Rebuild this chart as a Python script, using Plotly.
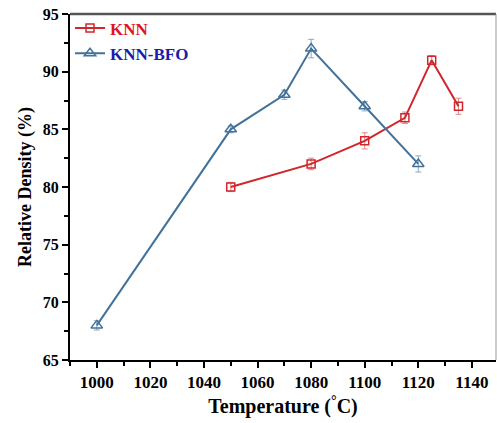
import plotly.graph_objects as go

knn_T = [1050, 1080, 1100, 1115, 1125, 1135]
knn_rd = [80, 82, 84, 86, 91, 87]
knn_err = [0.4, 0.5, 0.7, 0.5, 0.4, 0.7]

bfo_T = [1000, 1050, 1070, 1080, 1100, 1120]
bfo_rd = [68, 85, 88, 92, 87, 82]
bfo_err = [0.4, 0.3, 0.4, 0.8, 0.4, 0.7]

x_ticks = [1000, 1020, 1040, 1060, 1080, 1100, 1120, 1140]
y_ticks = [65, 70, 75, 80, 85, 90, 95]

red = "#d0262c"
blue = "#42729a"
font = "Liberation Serif"

fig = go.Figure()
fig.add_trace(go.Scatter(
    x=knn_T, y=knn_rd, mode="lines+markers",
    name="<b><span style='color:#e0141e'>KNN</span></b>",
    line=dict(color=red, width=2),
    marker=dict(symbol="square-open", size=8, color=red, line=dict(width=1.5)),
    error_y=dict(type="data", array=knn_err, color="#d98a8c", thickness=1, width=3),
))
fig.add_trace(go.Scatter(
    x=bfo_T, y=bfo_rd, mode="lines+markers",
    name="<b><span style='color:#1c1ca8'>KNN-BFO</span></b>",
    line=dict(color=blue, width=2),
    marker=dict(symbol="triangle-up-open", size=10, color=blue, line=dict(width=1.5)),
    error_y=dict(type="data", array=bfo_err, color="#8aa8c0", thickness=1, width=3),
))

fig.update_layout(
    width=497, height=423,
    margin=dict(l=70, r=1, t=14, b=63),
    paper_bgcolor="white", plot_bgcolor="white",
    font=dict(family=font, size=15, color="black"),
    showlegend=True,
    legend=dict(x=0.0, y=1.01, xanchor="left", yanchor="top",
                bgcolor="rgba(0,0,0,0)", font=dict(family=font, size=17),
                itemwidth=30, tracegroupgap=0),
    shapes=[
        dict(type="line", xref="paper", yref="paper", x0=0, x1=1, y0=1, y1=1,
             line=dict(color="#555555", width=2.5)),
        dict(type="line", xref="paper", yref="paper", x0=1, x1=1, y0=0, y1=1,
             line=dict(color="#999999", width=1)),
    ],
)
fig.update_xaxes(
    range=[990, 1149], tickvals=x_ticks, ticktext=[f"<b>{v}</b>" for v in x_ticks],
    showgrid=False, zeroline=False, showline=True, linecolor="black", linewidth=2,
    ticks="outside", ticklen=6, tickwidth=2, tickcolor="black",
    minor=dict(dtick=10, ticks="outside", ticklen=4, tickwidth=1.5, tickcolor="black"),
    title=dict(text="<b>Temperature (<sup>°</sup>C)</b>", font=dict(family=font, size=20), standoff=8),
    tickfont=dict(family=font, size=17),
)
fig.update_yaxes(
    range=[65, 95], tickvals=y_ticks, ticktext=[f"<b>{v}</b>" for v in y_ticks],
    showgrid=False, zeroline=False, showline=True, linecolor="black", linewidth=2,
    ticks="outside", ticklen=6, tickwidth=2, tickcolor="black",
    minor=dict(dtick=2.5, ticks="outside", ticklen=4, tickwidth=1.5, tickcolor="black"),
    title=dict(text="<b>Relative Density (%)</b>", font=dict(family=font, size=18), standoff=6),
    tickfont=dict(family=font, size=16),
)

fig.write_html("out.html")
